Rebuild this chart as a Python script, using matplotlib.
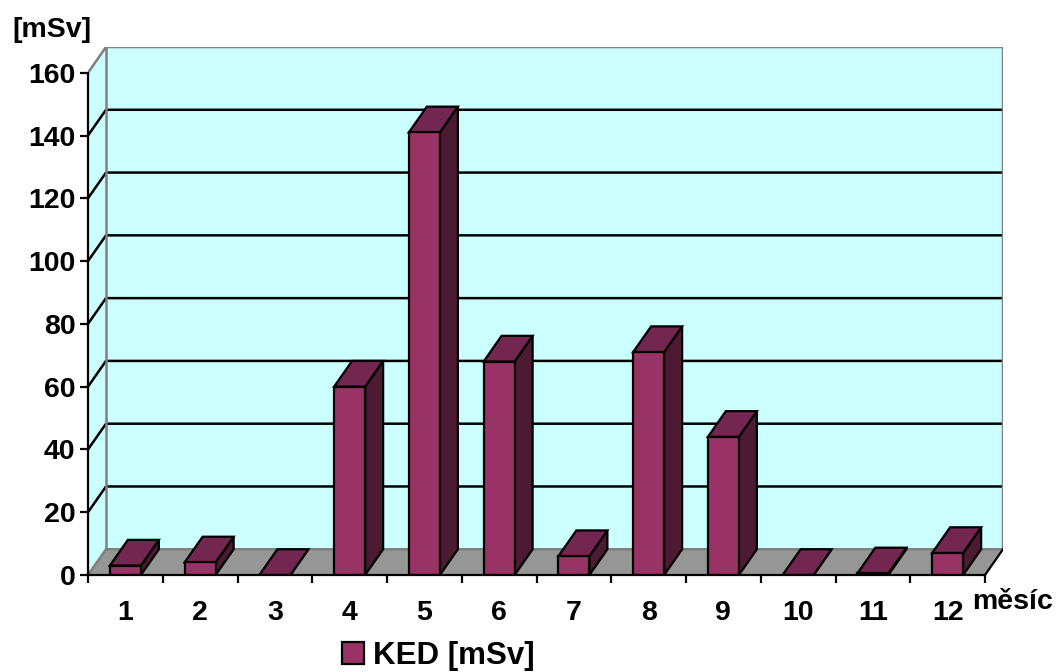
import matplotlib
import matplotlib.pyplot as plt
from matplotlib.patches import Polygon, Patch
matplotlib.use('Agg')

months = list(range(1, 13))
ked = [3, 4, 0, 60, 141, 68, 6, 71, 44, 0, 0.5, 7]
y_ticks = list(range(0, 161, 20))

plt.rcParams['font.family'] = ['Liberation Sans', 'DejaVu Sans']
plt.rcParams['font.weight'] = 'bold'
FS = 20.5

front_col = '#993366'
top_col = '#732650'
side_col = '#4d1a33'
wall_col = '#ccffff'
floor_col = '#969696'
edge_gray = '#808080'

fig = plt.figure(figsize=(10.61, 6.72), dpi=100)
ax = fig.add_axes([88 / 1061, 97 / 672, 915 / 1061, 528 / 672])

# depth of the 3D box in data units
dx = 18 / 74.75
dy = 8.2
ymax = 160
x0, x1 = 0.5, len(months) + 0.5
ax.set_xlim(x0, x1 + dx)
ax.set_ylim(0, ymax + dy)

# walls and floor
ax.add_patch(Polygon([(x0, 0), (x0 + dx, dy), (x0 + dx, ymax + dy), (x0, ymax)],
                     facecolor=wall_col, edgecolor='none', zorder=0.5))
ax.add_patch(Polygon([(x0 + dx, dy), (x1 + dx, dy), (x1 + dx, ymax + dy), (x0 + dx, ymax + dy)],
                     facecolor=wall_col, edgecolor='none', zorder=0.5))
ax.add_patch(Polygon([(x0, 0), (x1, 0), (x1 + dx, dy), (x0 + dx, dy)],
                     facecolor=floor_col, edgecolor='none', zorder=0.6))

for v in y_ticks[1:-1]:
    ax.plot([x0, x0 + dx, x1 + dx], [v, v + dy, v + dy], color='black', lw=1.8, zorder=1)

ax.plot([x0, x0 + dx, x1 + dx, x1 + dx], [ymax, ymax + dy, ymax + dy, dy],
        color=edge_gray, lw=1.8, zorder=1.1)
ax.plot([x0 + dx, x0 + dx], [dy, ymax + dy], color=edge_gray, lw=1.8, zorder=1.1)
ax.plot([x0, x0 + dx, x1 + dx], [0, dy, dy], color=edge_gray, lw=1.8, zorder=1.1)
ax.plot([x1, x1 + dx], [0, dy], color='black', lw=1.6, zorder=1.1)

# 3D columns
w = 0.415
for m, v in zip(months, ked):
    xl, xr = m - w / 2, m + w / 2
    kw = dict(edgecolor='black', lw=1.6, joinstyle='miter', zorder=3)
    ax.add_patch(Polygon([(xr, 0), (xr + dx, dy), (xr + dx, v + dy), (xr, v)], facecolor=side_col, **kw))
    ax.add_patch(Polygon([(xl, v), (xr, v), (xr + dx, v + dy), (xl + dx, v + dy)], facecolor=top_col, **kw))
    if v > 0:
        ax.add_patch(Polygon([(xl, 0), (xr, 0), (xr, v), (xl, v)], facecolor=front_col, **kw))

for s in ['top', 'right']:
    ax.spines[s].set_visible(False)
ax.spines['left'].set_bounds(0, ymax)
ax.spines['bottom'].set_bounds(x0, x1)
for s in ['left', 'bottom']:
    ax.spines[s].set_linewidth(1.6)
    ax.spines[s].set_zorder(4)

ax.set_yticks(y_ticks)
ax.set_yticklabels([str(t) for t in y_ticks])
ax.set_xticks([x0 + i for i in range(len(months) + 1)])
ax.set_xticklabels([])
ax.set_xticks(months, minor=True)
ax.set_xticklabels([str(m) for m in months], minor=True)
ax.tick_params(axis='both', which='major', direction='out', length=6, width=1.6, labelsize=FS)
ax.tick_params(axis='y', pad=3)
ax.tick_params(axis='x', which='minor', length=0, pad=18, labelsize=FS)

fig.text(12 / 1061, 1 - 30 / 672, '[mSv]', fontsize=FS, va='center', ha='left')
fig.text(972 / 1061, 1 - 602 / 672, 'měsíc', fontsize=FS, va='center', ha='left')

fig.legend(handles=[Patch(facecolor=front_col, edgecolor='black', lw=1.6, label='KED [mSv]')],
           loc='center left', bbox_to_anchor=(342 / 1061, 16 / 672), frameon=False,
           borderpad=0, borderaxespad=0, handlelength=0.7, handleheight=0.7,
           handletextpad=0.3, fontsize=22.5)

fig.savefig('out.png', dpi=100)
